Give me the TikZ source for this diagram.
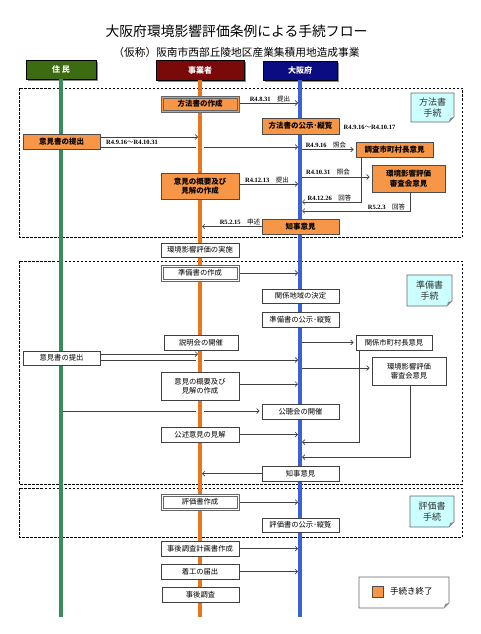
\documentclass[tikz,border=0pt]{standalone}
\usepackage{fontspec}
\setmainfont{Noto Sans CJK JP}
\newfontfamily\dtfont{Liberation Serif}
\usetikzlibrary{arrows.meta,shadows}
\definecolor{orng}{HTML}{F79646}
\definecolor{lgreen}{HTML}{3A8C5C}
\definecolor{lorange}{HTML}{E8761C}
\definecolor{lblue}{HTML}{3A60DA}
\definecolor{hgreen}{HTML}{3C6B12}
\definecolor{hred}{HTML}{7A0A0A}
\definecolor{hblue}{HTML}{0B0B82}
\definecolor{notec}{HTML}{CCFFFF}
\newcommand\mydt[1]{{\dtfont\bfseries #1}}
\begin{document}
\begin{tikzpicture}[x=1pt,y=-1pt,
  box/.style={draw=black!75, line width=0.6pt, inner sep=0pt, fill=white, align=center,
    font=\fontsize{7.3}{9.5}\selectfont},
  ob/.style={box, fill=orng, draw=black!70, font=\fontsize{7.5}{9.5}\selectfont\bfseries},
  dbl/.style={draw=black!60, line width=0.9pt,
    path picture={\draw[black!60, line width=0.5pt]
      ([shift={(1.8pt,-1.8pt)}]path picture bounding box.north west) rectangle
      ([shift={(-1.8pt,1.8pt)}]path picture bounding box.south east);}},
  hdr/.style={draw=black, line width=0.5pt, inner sep=0pt, text=white,
    font=\fontsize{8}{9}\selectfont\bfseries,
    drop shadow={shadow xshift=2pt, shadow yshift=-2pt, fill=black!45, opacity=1}},
  lab/.style={inner sep=0pt, font=\fontsize{6.5}{7}\selectfont},
  arr/.style={draw=black!75, line width=0.7pt, -{Straight Barb[length=2.5pt,width=5pt]}, shorten >=2pt},
  sect/.style={draw=black, line width=0.9pt, dash pattern=on 2.5pt off 1.5pt},
  life/.style={line width=4pt},
  notes/.style={draw=black!60, line width=0.6pt, fill=notec},
  nt/.style={inner sep=0pt, align=center, text=black!80, font=\fontsize{9}{11}\selectfont}
]
\useasboundingbox (0,0) rectangle (480,634);

% titles
\node (title) at (236.5,31) {\fontsize{13.8}{16}\selectfont 大阪府環境影響評価条例による手続フロー};
\node (sub) at (236.5,52) {\fontsize{10.7}{13}\selectfont （仮称）阪南市西部丘陵地区産業集積用地造成事業};

% section frames
\draw[sect] (19,88) rectangle (462,237);
\draw[sect] (19,261) rectangle (462,484);
\draw[sect] (19,488) rectangle (462,537);

% section notes
\draw[notes] (411,93) -- (454,93) -- (454,117) -- (449,122) -- (411,122) -- cycle;
\fill[black!45] (449,122) -- (450,118) -- (454,117) -- cycle;
\node[nt] (n1) at (432.5,107.5) {方法書\\手続};
\draw[notes] (407,275) -- (452,275) -- (452,301) -- (447,306) -- (407,306) -- cycle;
\fill[black!45] (447,306) -- (448,302) -- (452,301) -- cycle;
\node[nt] (n2) at (429.5,290.5) {準備書\\手続};
\draw[notes] (410,496) -- (454,496) -- (454,522) -- (449,527) -- (410,527) -- cycle;
\fill[black!45] (449,527) -- (450,523) -- (454,522) -- cycle;
\node[nt] (n3) at (432,511.5) {評価書\\手続};

% headers
\node[hdr, fill=hgreen, minimum width=70pt, minimum height=19pt] (hG) at (61,69.5) {住\ 民};
\node[hdr, fill=hred, minimum width=88pt, minimum height=20pt] (hO) at (200,70) {事業者};
\node[hdr, fill=hblue, minimum width=74pt, minimum height=19pt] (hB) at (300,70.5) {大阪府};

\coordinate (G) at (61,0);
\coordinate (O) at (200,0);
\coordinate (B) at (300,0);

% 方法書 section nodes (positions; redrawn above lifelines later)
\path
 (200,104) node[ob, dbl, minimum width=78pt, minimum height=16pt] (a1) {方法書の作成}
 (300.5,126) node[ob, minimum width=77pt, minimum height=16pt] (a2) {方法書の公示･縦覧}
 (61.5,141.5) node[ob, minimum width=77pt, minimum height=15pt] (a3) {意見書の提出}
 (394.5,149.5) node[ob, minimum width=77pt, minimum height=15pt] (a4) {調査市町村長意見}
 (408.5,178.5) node[ob, minimum width=73pt, minimum height=27pt] (a5) {環境影響評価\\審査会意見}
 (200,186) node[ob, minimum width=78pt, minimum height=26pt] (a6) {意見の概要及び\\見解の作成}
 (300.5,226.5) node[ob, minimum width=77pt, minimum height=15pt] (a7) {知事意見};

% arrows section 1
\draw[arr] (a1.east |- 0,103) -- (B |- 0,103);
\draw[arr] (a3.east |- 0,137) -- (O |- 0,137);
\draw[arr] (a3.east |- 0,147) -- (196,147) (204,147) -- (B |- 0,147);
\draw[arr] (B |- a4.west) -- (a4.west);
\draw[arr] (B |- 0,177) -- (a5.west |- 0,177);
\draw[arr] (a6.east |- 0,184) -- (B |- 0,184);
\draw[arr] (a4.south -| 361,0) -- (361,202) -- (B |- 0,202);
\draw[arr] (a5.south -| 410,0) -- (410,211) -- (B |- 0,211);
\draw[arr] (a7.west) -- (a7.west -| O);

% labels section 1
\node[lab] (l1) at (270,99) {\mydt{R4.8.31}\quad 提出};
\node[lab] (l2) at (369.5,127) {\mydt{R4.9.16}～\mydt{R4.10.17}};
\node[lab] (l3) at (132,142) {\mydt{R4.9.16}～\mydt{R4.10.31}};
\node[lab] (l4) at (326,145) {\mydt{R4.9.16}\quad 照会};
\node[lab] (l5) at (328,172) {\mydt{R4.10.31}\quad 照会};
\node[lab] (l6) at (267,180) {\mydt{R4.12.13}\quad 提出};
\node[lab] (l7) at (329.5,198) {\mydt{R4.12.26}\quad 回答};
\node[lab] (l8) at (386.5,206.5) {\mydt{R5.2.3}\quad 回答};
\node[lab] (l9) at (240,222) {\mydt{R5.2.15}\quad 申述};

% 準備書 section nodes
\path
 (200,250) node[box, minimum width=78pt, minimum height=14pt] (b0) {環境影響評価の実施}
 (200,273) node[box, dbl, minimum width=78pt, minimum height=16pt] (b1) {準備書の作成}
 (300.5,296) node[box, minimum width=77pt, minimum height=14pt] (b2) {関係地域の決定}
 (300.5,319.5) node[box, minimum width=77pt, minimum height=15pt] (b3) {準備書の公示･縦覧}
 (394,342.5) node[box, minimum width=76pt, minimum height=15pt] (b4) {関係市町村長意見}
 (409,371) node[box, minimum width=74pt, minimum height=28pt] (b5) {環境影響評価\\審査会意見}
 (201,342.5) node[box, minimum width=74pt, minimum height=15pt] (b6) {説明会の開催}
 (61.5,358) node[box, minimum width=77pt, minimum height=14pt] (b7) {意見書の提出}
 (200,386) node[box, minimum width=78pt, minimum height=28pt] (b8) {意見の概要及び\\見解の作成}
 (300.5,411.5) node[box, minimum width=77pt, minimum height=15pt] (b9) {公聴会の開催}
 (200,434.5) node[box, minimum width=78pt, minimum height=15pt] (b10) {公述意見の見解}
 (300.5,473.5) node[box, minimum width=77pt, minimum height=15pt] (b11) {知事意見};

\draw[arr] (b1.east) -- (b1.east -| B);
\draw[arr] (B |- b4.west) -- (b4.west);
\draw[arr] (B |- 0,368) -- (b5.west |- 0,368);
\draw[arr] (b7.east |- 0,354) -- (O |- 0,354);
\draw[arr] (b7.east |- 0,360) -- (196,360) (204,360) -- (B |- 0,360);
\draw[arr] (b8.east |- 0,384) -- (B |- 0,384);
\draw[arr] (G |- 0,411) -- (196,411) (204,411) -- (b9.west |- 0,411);
\draw[arr] (b10.east) -- (b10.east -| B);
\draw[arr] (b4.south -| 359,0) -- (359,442) -- (B |- 0,442);
\draw[arr] (b5.south -| 410,0) -- (410,457) -- (B |- 0,457);
\draw[arr] (b11.west) -- (b11.west -| O);

% 評価書 and after
\path
 (200,502) node[box, dbl, minimum width=78pt, minimum height=16pt] (c1) {評価書作成}
 (300.5,525) node[box, minimum width=77pt, minimum height=14pt] (c2) {評価書の公示･縦覧}
 (200,548.5) node[box, minimum width=78pt, minimum height=15pt] (d1) {事後調査計画書作成}
 (200,571.5) node[box, minimum width=78pt, minimum height=15pt] (d2) {着工の届出}
 (200.5,594.5) node[box, minimum width=77pt, minimum height=15pt] (d3) {事後調査};

\draw[arr] (c1.east) -- (c1.east -| B);
\draw[arr] (d1.east) -- (d1.east -| B);
\draw[arr] (d2.east) -- (d2.east -| B);

% lifelines
\draw[life, lgreen] (hG.south) -- (hG.south |- 0,617);
\draw[life, lorange] (hO.south) -- (hO.south |- 0,617);
\draw[life, lblue] (hB.south) -- (hB.south |- 0,617);

% boxes again, above the lifelines
\path
 (200,104) node[ob, dbl, minimum width=78pt, minimum height=16pt] {方法書の作成}
 (300.5,126) node[ob, minimum width=77pt, minimum height=16pt] {方法書の公示･縦覧}
 (61.5,141.5) node[ob, minimum width=77pt, minimum height=15pt] {意見書の提出}
 (200,186) node[ob, minimum width=78pt, minimum height=26pt] {意見の概要及び\\見解の作成}
 (300.5,226.5) node[ob, minimum width=77pt, minimum height=15pt] {知事意見}
 (200,250) node[box, minimum width=78pt, minimum height=14pt] {環境影響評価の実施}
 (200,273) node[box, dbl, minimum width=78pt, minimum height=16pt] {準備書の作成}
 (300.5,296) node[box, minimum width=77pt, minimum height=14pt] {関係地域の決定}
 (300.5,319.5) node[box, minimum width=77pt, minimum height=15pt] {準備書の公示･縦覧}
 (201,342.5) node[box, minimum width=74pt, minimum height=15pt] {説明会の開催}
 (61.5,358) node[box, minimum width=77pt, minimum height=14pt] {意見書の提出}
 (200,386) node[box, minimum width=78pt, minimum height=28pt] {意見の概要及び\\見解の作成}
 (300.5,411.5) node[box, minimum width=77pt, minimum height=15pt] {公聴会の開催}
 (200,434.5) node[box, minimum width=78pt, minimum height=15pt] {公述意見の見解}
 (300.5,473.5) node[box, minimum width=77pt, minimum height=15pt] {知事意見}
 (200,502) node[box, dbl, minimum width=78pt, minimum height=16pt] {評価書作成}
 (300.5,525) node[box, minimum width=77pt, minimum height=14pt] {評価書の公示･縦覧}
 (200,548.5) node[box, minimum width=78pt, minimum height=15pt] {事後調査計画書作成}
 (200,571.5) node[box, minimum width=78pt, minimum height=15pt] {着工の届出}
 (200.5,594.5) node[box, minimum width=77pt, minimum height=15pt] {事後調査};

% legend
\draw[draw=black!60, line width=0.6pt, fill=white] (359,577) -- (449,577) -- (449,603) -- (444,608) -- (359,608) -- cycle;
\fill[black!45] (444,608) -- (445,604) -- (449,603) -- cycle;
\node[draw=black!70, line width=0.5pt, fill=orng, minimum size=11pt, inner sep=0pt] (lgsq) at (377.5,591.5) {};
\node[inner sep=0pt, anchor=west, font=\fontsize{8.5}{10}\selectfont] (lgtx) at (390,591.5) {手続き終了};
\end{tikzpicture}
\end{document}
